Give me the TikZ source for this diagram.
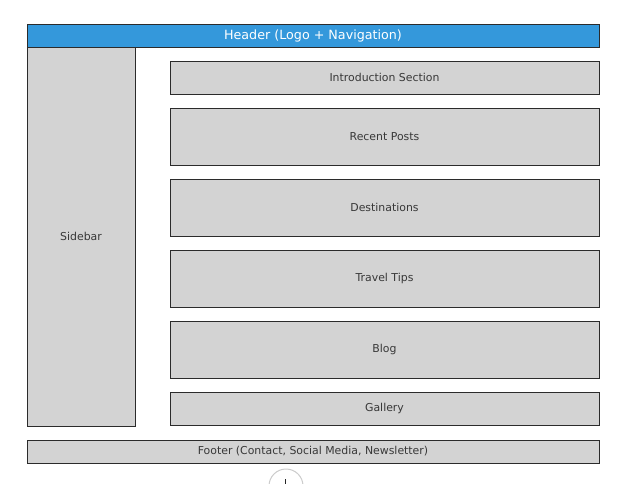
\documentclass[tikz,border=0pt]{standalone}
\usepackage{fontspec}
\setmainfont{DejaVu Sans}
\definecolor{hdr}{HTML}{3498DB}
\definecolor{boxfill}{HTML}{D3D3D3}
\definecolor{edge}{HTML}{2B2B2B}
\begin{document}
\begin{tikzpicture}[x=1pt,y=-1pt,
  blk/.style={draw=edge,fill=boxfill,line width=0.9pt,inner sep=0pt,text=black!78,font=\fontsize{10.9}{12}\selectfont},
  hdrbox/.style={draw=edge,fill=hdr,line width=0.9pt,inner sep=0pt,text=white,font=\fontsize{12.7}{14}\selectfont}]
\useasboundingbox (0,0) rectangle (629,483);
\begin{scope}
\clip (0,0) rectangle (629,483);
\node[hdrbox,minimum width=572pt,minimum height=23pt] (header) at (313,35.5) {Header (Logo + Navigation)};
\node[blk,minimum width=108pt,minimum height=379pt] (sidebar) at (81,236.5) {Sidebar};
\node[blk,minimum width=429pt,minimum height=33pt] (intro) at (384.5,77.5) {Introduction Section};
\node[blk,minimum width=429pt,minimum height=57pt] (recent) at (384.5,136.5) {Recent Posts};
\node[blk,minimum width=429pt,minimum height=57pt] (dest) at (384.5,207.5) {Destinations};
\node[blk,minimum width=429pt,minimum height=57pt] (tips) at (384.5,278.5) {Travel Tips};
\node[blk,minimum width=429pt,minimum height=57pt] (blog) at (384.5,349.5) {Blog};
\node[blk,minimum width=429pt,minimum height=33pt] (gallery) at (384.5,408.5) {Gallery};
\node[blk,minimum width=572pt,minimum height=23pt] (footer) at (313,451.5) {Footer (Contact, Social Media, Newsletter)};
\node[circle,draw=black!20,fill=white,line width=1pt,minimum size=34pt,inner sep=0pt] (plus) at (286,486) {};
\draw[black!85,line width=1.6pt] (285.5,479) -- (285.5,484);
\end{scope}
\end{tikzpicture}
\end{document}
